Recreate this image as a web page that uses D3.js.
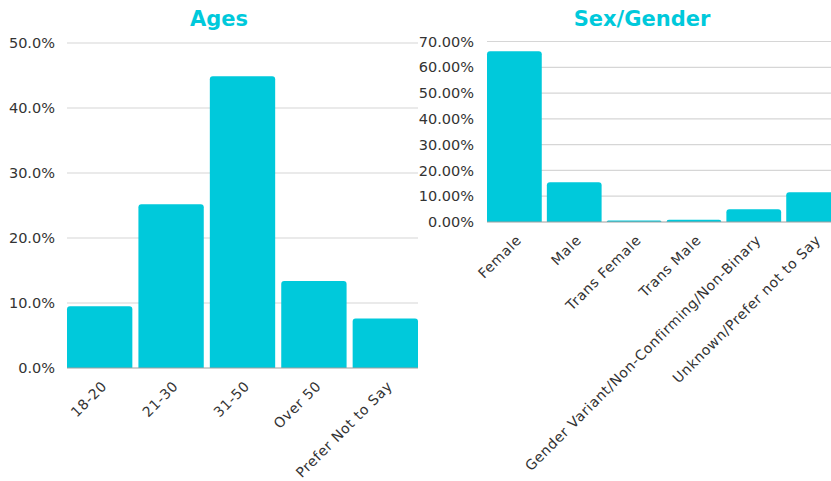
<!DOCTYPE html>
<html><head><meta charset="utf-8">
<script src="https://cdn.jsdelivr.net/npm/d3@7"></script>
<style>
body{margin:0;background:#fff;}
svg{display:block;font-family:"DejaVu Sans",sans-serif;}
</style></head>
<body>
<svg id="c" width="831" height="481"></svg>
<script>
const ageCategories = ["18-20","21-30","31-50","Over 50","Prefer Not to Say"];
const ageValues = [9.5, 25.2, 44.9, 13.4, 7.6];
const ageTicks = [0,10,20,30,40,50];

const genderCategories = ["Female","Male","Trans Female","Trans Male","Gender Variant/Non-Confirming/Non-Binary","Unknown/Prefer not to Say"];
const genderValues = [66.2, 15.4, 0.6, 0.9, 4.9, 11.5];
const genderTicks = [0,10,20,30,40,50,60,70];

const barColor = "#00C9DB";
const textColor = "#333";
const font = '"DejaVu Sans",sans-serif';
const svg = d3.select("#c");

function roundedTopBar(x, y, w, h, r){
  r = Math.min(r, h, w/2);
  return `M${x},${y+h}V${y+r}Q${x},${y} ${x+r},${y}H${x+w-r}Q${x+w},${y} ${x+w},${y+r}V${y+h}Z`;
}

function drawChart(opts){
  const {cats, vals, ticks, x0, x1, yTop, yBot, yMax, title, titleX, fmt, labelX} = opts;
  const g = svg.append("g");
  const x = d3.scaleBand().domain(cats).range([x0, x1]).paddingInner(opts.pad).paddingOuter(0);
  const y = d3.scaleLinear().domain([0, yMax]).range([yBot, yTop]);

  g.append("g").selectAll("line").data(ticks.filter(t=>t>0)).join("line")
    .attr("x1", x0).attr("x2", opts.gridEnd)
    .attr("y1", d=>y(d)).attr("y2", d=>y(d))
    .attr("stroke", "#d6d6d6").attr("stroke-width", 1.2);

  const ya = d3.axisLeft(y).tickValues(ticks).tickFormat(fmt).tickSize(0).tickPadding(0);
  const yg = g.append("g").attr("transform", `translate(${labelX},0)`).call(ya);
  yg.select(".domain").remove();
  yg.selectAll("text").attr("font-size", 14.5).attr("fill", textColor).attr("font-family", font);

  g.append("g").selectAll("path").data(vals).join("path")
    .attr("d", (d,i)=>roundedTopBar(x(cats[i]), y(d), x.bandwidth(), yBot - y(d), 3))
    .attr("fill", barColor);

  g.append("line").attr("x1", x0).attr("x2", opts.gridEnd).attr("y1", yBot).attr("y2", yBot)
    .attr("stroke", "#a0a0a0").attr("stroke-width", 1.2);

  const xa = d3.axisBottom(x).tickSize(0).tickPadding(0);
  const xg = g.append("g").attr("transform", `translate(0,${yBot})`).call(xa);
  xg.select(".domain").remove();
  xg.selectAll("text")
    .attr("font-size", 14).attr("fill", textColor).attr("font-family", font)
    .attr("letter-spacing", "0.6px")
    .attr("text-anchor", "end")
    .attr("dy", "0")
    .attr("y", 0)
    .attr("transform", "translate(8,19) rotate(-45)");

  svg.append("text").attr("x", titleX).attr("y", 26).attr("text-anchor", "middle")
    .attr("font-size", 21).attr("font-weight", "bold").attr("fill", barColor)
    .attr("font-family", font).text(title);
}

drawChart({cats: ageCategories, vals: ageValues, ticks: ageTicks, x0: 67, x1: 418, gridEnd: 418,
  yTop: 43, yBot: 368, yMax: 50, pad: 0.085, title: "Ages", titleX: 219,
  fmt: d=>d.toFixed(1)+"%", labelX: 55});

drawChart({cats: genderCategories, vals: genderValues, ticks: genderTicks, x0: 487, x1: 841, gridEnd: 841,
  yTop: 41.5, yBot: 222, yMax: 70, pad: 0.085, title: "Sex/Gender", titleX: 642,
  fmt: d=>d.toFixed(2)+"%", labelX: 474});
</script>
</body></html>
